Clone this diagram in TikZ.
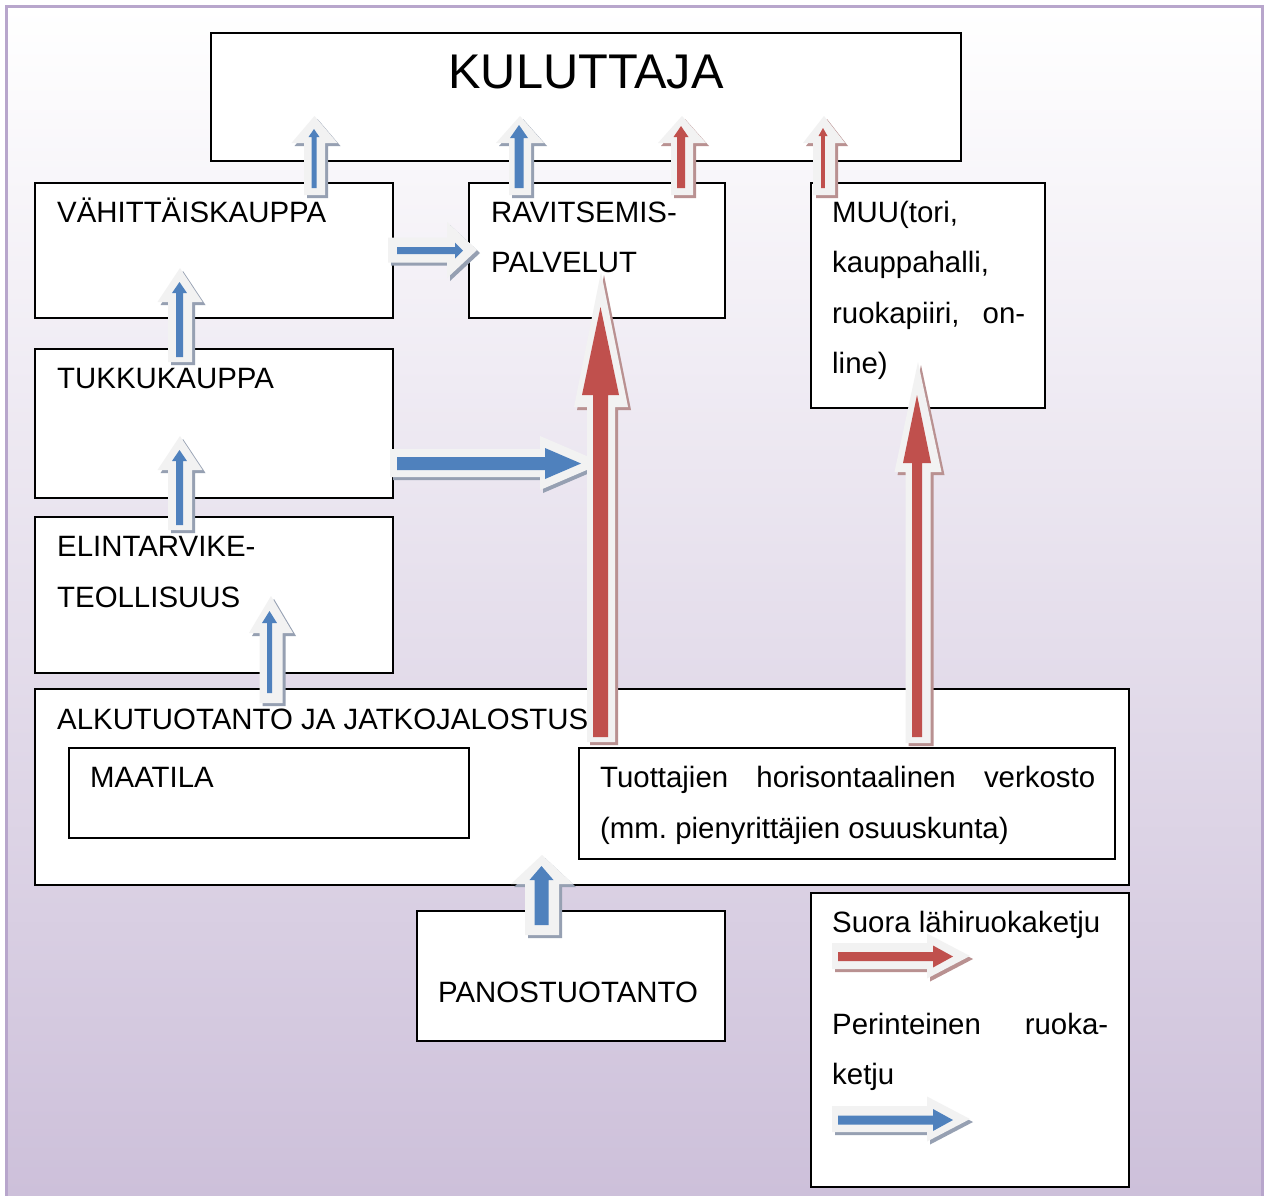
\documentclass[tikz,border=0pt]{standalone}
\usepackage{fontspec}
\setmainfont{Liberation Sans}
\frenchspacing
\definecolor{cblue}{RGB}{79,129,189}
\definecolor{cred}{RGB}{192,80,77}
\definecolor{cgrey}{RGB}{242,242,242}
\definecolor{sblue}{RGB}{150,160,178}
\definecolor{sred}{RGB}{185,145,145}
\definecolor{lav}{RGB}{205,192,218}
\definecolor{framec}{RGB}{184,166,204}
% up arrow: style, cx, ybot, ytip, shaft half, head half, head base y
\newcommand\arrUp[7]{\fill[#1] ({#2-#5},#3) -- ({#2-#5},#7) -- ({#2-#6},#7) -- (#2,#4) -- ({#2+#6},#7) -- ({#2+#5},#7) -- ({#2+#5},#3) -- cycle;}
% right arrow: style, cy, xleft, xtip, shaft half, head half, head base x
\newcommand\arrRt[7]{\fill[#1] (#3,{#2-#5}) -- (#7,{#2-#5}) -- (#7,{#2-#6}) -- (#4,#2) -- (#7,{#2+#6}) -- (#7,{#2+#5}) -- (#3,{#2+#5}) -- cycle;}
\newcommand\outerUp[7]{\arrUp{#1,shift={(3,3)}}{#2}{#3}{#4}{#5}{#6}{#7}\arrUp{cgrey}{#2}{#3}{#4}{#5}{#6}{#7}}
\newcommand\outerRt[7]{\arrRt{#1,shift={(3,3)}}{#2}{#3}{#4}{#5}{#6}{#7}\arrRt{cgrey}{#2}{#3}{#4}{#5}{#6}{#7}}
\begin{document}
\begin{tikzpicture}[x=1pt,y=-1pt,
  box/.style={draw=black,fill=white,line width=1.5pt,inner sep=0pt,outer sep=0pt,anchor=north west},
  txt/.style={font=\fontsize{29.4}{35}\selectfont,inner sep=0pt,anchor=base west},
  frameline/.style={draw=framec,line width=3pt}]
\useasboundingbox (0,0) rectangle (1264,1195);
\fill[white] (0,0) rectangle (1264,1195);
\shade[top color=white,bottom color=lav] (6,6) rectangle (1262,1195);
\draw[frameline] (6,1196) -- (6,6) -- (1262,6) -- (1262,1196);
% boxes
\node[box,minimum width=750,minimum height=128] (kul) at (211,33) {};
\node[box,minimum width=358,minimum height=135] (vah) at (35,183) {};
\node[box,minimum width=256,minimum height=135] (rav) at (469,183) {};
\node[box,minimum width=234,minimum height=225] (muu) at (811,183) {};
\node[box,minimum width=358,minimum height=149] (tuk) at (35,349) {};
\node[box,minimum width=358,minimum height=156] (eli) at (35,517) {};
\node[box,minimum width=1094,minimum height=196] (alk) at (35,689) {};
\node[box,minimum width=400,minimum height=90] (maa) at (69,748) {};
\node[box,minimum width=536,minimum height=111] (tuo) at (579,748) {};
\node[box,minimum width=308,minimum height=130] (pan) at (417,911) {};
\node[box,minimum width=318,minimum height=294] (leg) at (811,893) {};
% arrows
\outerUp{sblue}{314.5}{195}{116}{10.5}{23}{143}
\arrUp{cblue}{314}{188}{129}{2.5}{5.5}{137}
\outerUp{sblue}{520}{195}{116}{11}{24}{143}
\arrUp{cblue}{519}{188}{125}{4.5}{9}{138}
\outerUp{sred}{682}{195}{116}{11}{24}{143}
\arrUp{cred}{681}{188}{126}{4}{7.5}{137}
\outerUp{sred}{824}{195}{116}{11}{21}{143}
\arrUp{cred}{823}{188}{128}{1.8}{4.5}{136}
\outerUp{sblue}{180}{362}{268}{12}{22.5}{302}
\arrUp{cblue}{179.5}{357}{282}{3.5}{7.5}{293}
\outerUp{sblue}{180}{530}{436}{12}{22.5}{470}
\arrUp{cblue}{179.5}{525}{450}{3.5}{7.5}{461}
\outerUp{sblue}{271}{703}{596}{11.5}{22}{633}
\arrUp{cblue}{269.5}{693}{611}{2.5}{7.5}{623}
\outerUp{sblue}{542}{935}{855}{17}{31}{884}
\arrUp{cblue}{541.5}{925}{866}{7}{12}{880}
\outerRt{sblue}{250}{388}{477}{12.5}{28}{447}
\arrRt{cblue}{250.5}{397}{463}{3.5}{8}{455}
\outerRt{sblue}{463}{390}{603}{14}{27}{540}
\arrRt{cblue}{463.5}{397}{581}{6.5}{15.5}{545}
\outerUp{sred}{601}{742}{272}{14}{27}{407}
\arrUp{cred}{600.5}{737}{307}{7.5}{18.5}{395}
\outerUp{sred}{918}{743}{362}{12.5}{23.5}{472}
\arrUp{cred}{917}{737}{395}{5}{14}{463}
\outerRt{sred}{956}{832}{970}{13}{22.5}{927}
\arrRt{cred}{956.5}{838}{953}{4.5}{11}{933}
\outerRt{sblue}{1119}{832}{970}{13}{22.5}{927}
\arrRt{cblue}{1120}{838}{953}{4.5}{11}{933}
% texts
\node[font=\fontsize{48.7}{56}\selectfont,inner sep=0pt,anchor=base] (tkul) at (586,88) {KULUTTAJA};
\node[txt] (tvah) at (57,222) {VÄHITTÄISKAUPPA};
\node[txt] (trav1) at (491,222) {RAVITSEMIS-};
\node[txt] (trav2) at (491,272) {PALVELUT};
\node[txt] (tmuu1) at (832,222) {MUU(tori,};
\node[txt] (tmuu2) at (832,272) {kauppahalli,};
\node[txt] (tmuu3) at (832,323) {\makebox[193pt][s]{ruokapiiri,\hfill on-}};
\node[txt] (tmuu4) at (832,373) {line)};
\node[txt] (ttuk) at (57,388) {TUKKUKAUPPA};
\node[txt] (teli1) at (57,556) {ELINTARVIKE-};
\node[txt] (teli2) at (57,607) {TEOLLISUUS};
\node[txt] (talk) at (57,729) {ALKUTUOTANTO JA JATKOJALOSTUS};
\node[txt] (tmaa) at (90,787) {MAATILA};
\node[txt] (ttuo1) at (600,787) {\makebox[495pt][s]{Tuottajien\hfill horisontaalinen\hfill verkosto}};
\node[txt] (ttuo2) at (600,838) {(mm. pienyrittäjien osuuskunta)};
\node[txt] (tpan) at (438,1002) {PANOSTUOTANTO};
\node[txt] (tleg1) at (832,932) {Suora lähiruokaketju};
\node[txt] (tleg2) at (832,1034) {\makebox[276pt][s]{Perinteinen\hfill ruoka-}};
\node[txt] (tleg3) at (832,1084) {ketju};
\end{tikzpicture}
\end{document}
